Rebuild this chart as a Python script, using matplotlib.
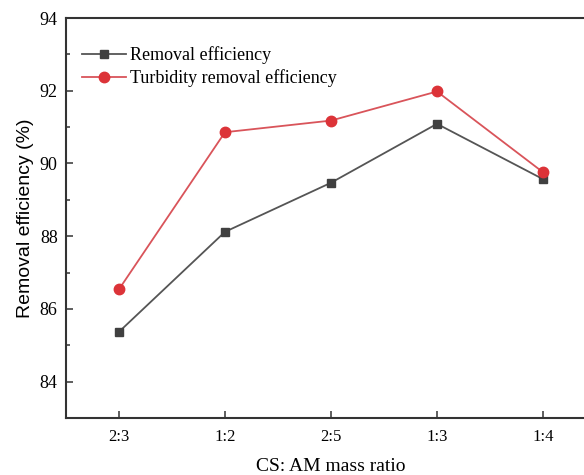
import matplotlib.pyplot as plt
from matplotlib.ticker import MultipleLocator

plt.rcParams["font.family"] = ["Liberation Serif", "DejaVu Serif"]

ratios = ["2:3", "1:2", "2:5", "1:3", "1:4"]
removal = [85.37, 88.12, 89.47, 91.09, 89.57]
turbidity = [86.54, 90.86, 91.18, 91.98, 89.76]

fig = plt.figure(figsize=(5.84, 4.75), dpi=100)
# axes run past the right edge of the figure, like the cropped original
ax = fig.add_axes([0.113, 0.12, 0.9075, 0.842])

x = range(len(ratios))
ax.plot(x, removal, color="#555555", lw=1.3, marker="s", ms=5.5,
        mfc="#404040", mec="#404040", label="Removal efficiency")
ax.plot(x, turbidity, color="#d9545a", lw=1.3, marker="o", ms=7.5,
        mfc="#dc3338", mec="#dc3338", label="Turbidity removal efficiency")

ax.set_xlim(-0.5, 4.5)
ax.set_ylim(83, 94)
ax.set_xticks(list(x))
ax.set_xticklabels(ratios)
ax.yaxis.set_major_locator(MultipleLocator(2))
ax.yaxis.set_minor_locator(MultipleLocator(1))
ax.tick_params(axis="both", which="both", direction="in", color="#333333")
ax.tick_params(axis="y", which="major", length=5, width=1.1, labelsize=13, pad=6)
ax.tick_params(axis="y", which="minor", length=3, width=1.1)
ax.tick_params(axis="x", which="major", length=5, width=1.1, labelsize=12, pad=8)

for side in ["left", "bottom", "top", "right"]:
    ax.spines[side].set_linewidth(1.5)
    ax.spines[side].set_color("#333333")

ax.set_xlabel("CS: AM mass ratio", fontsize=14, labelpad=9)
ax.set_ylabel("Removal efficiency (%)", fontsize=14, labelpad=4,
              family=["Liberation Sans", "DejaVu Sans"])

ax.legend(loc="upper left", frameon=False, fontsize=13, handlelength=2.4,
          handletextpad=0.25, labelspacing=0.3, bbox_to_anchor=(0.0, 0.97))

fig.savefig("out.png", dpi=100)
